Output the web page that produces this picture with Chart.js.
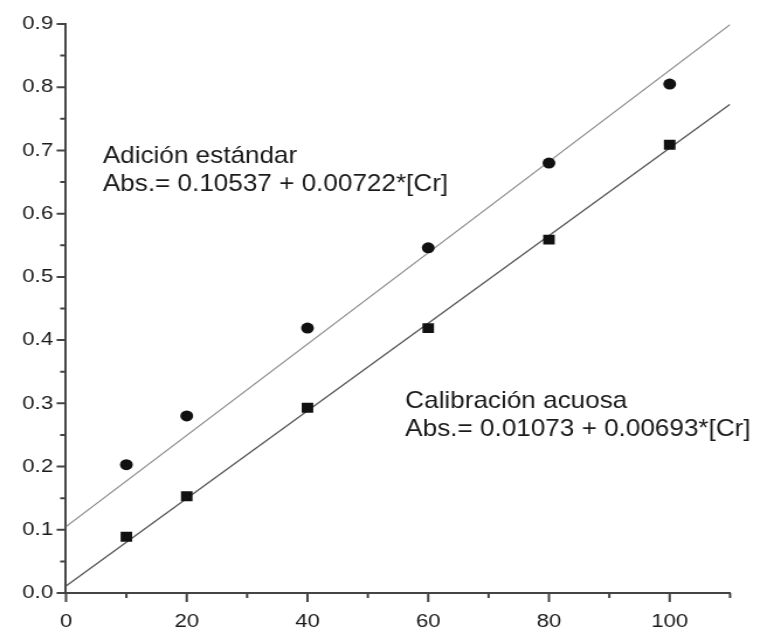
<!DOCTYPE html>
<html>
<head>
<meta charset="utf-8">
<script src="https://cdn.jsdelivr.net/npm/chart.js@4"></script>
<style>
  html, body { margin: 0; padding: 0; background: #fff; overflow: hidden; }
  /* the original picture is stretched sideways, so the chart is drawn narrower and scaled up */
  #wrap { width: 650px; height: 630px; transform: scaleX(1.1692); transform-origin: 0 0; }
</style>
</head>
<body>
<div id="wrap"><canvas id="calChart"></canvas></div>
<script>
// concentration of Cr
const concentrations = [10, 20, 40, 60, 80, 100];
// absorbance, standard addition (circles)
const absStdAddition = [0.203, 0.280, 0.419, 0.546, 0.680, 0.805];
// absorbance, aqueous calibration (squares)
const absAqueous = [0.089, 0.153, 0.293, 0.419, 0.559, 0.709];
// fitted lines, ends at x = 0 and x = 110
const fitX = [0, 110];
const fitStdAddition = [0.105, 0.899];
const fitAqueous = [0.011, 0.773];
// axis ticks
const xTicks = [0, 20, 40, 60, 80, 100];
const yTicks = [0.0, 0.1, 0.2, 0.3, 0.4, 0.5, 0.6, 0.7, 0.8, 0.9];
const labelStdAddition = ['Adición estándar', 'Abs.= 0.10537 + 0.00722*[Cr]'];
const labelAqueous = ['Calibración acuosa', 'Abs.= 0.01073 + 0.00693*[Cr]'];

const toPoints = (xs, ys) => xs.map((x, i) => ({ x: x, y: ys[i] }));

const axisColor = '#444';
const textColor = '#1a1a1a';

// tick marks: long ones on labelled values, short ones halfway between
const tickMarks = {
    id: 'tickMarks',
    afterDraw(chart) {
        const { ctx, scales: { x, y } } = chart;
        ctx.save();
        ctx.strokeStyle = axisColor;
        ctx.lineWidth = 2;
        const xMinor = xTicks.map(v => v + 10);
        const yMinor = yTicks.slice(0, -1).map(v => v + 0.05);
        ctx.beginPath();
        xTicks.forEach(v => { const px = x.getPixelForValue(v); ctx.moveTo(px, y.bottom); ctx.lineTo(px, y.bottom + 9); });
        xMinor.forEach(v => { const px = x.getPixelForValue(v); ctx.moveTo(px, y.bottom); ctx.lineTo(px, y.bottom + 5); });
        yTicks.forEach(v => { const py = y.getPixelForValue(v); ctx.moveTo(x.left, py); ctx.lineTo(x.left - 8, py); });
        yMinor.forEach(v => { const py = y.getPixelForValue(v); ctx.moveTo(x.left, py); ctx.lineTo(x.left - 5, py); });
        ctx.stroke();
        ctx.restore();
    }
};

// equation labels next to each line
const equations = {
    id: 'equations',
    afterDraw(chart) {
        const { ctx, scales: { x, y } } = chart;
        ctx.save();
        ctx.fillStyle = textColor;
        ctx.font = '24px "Liberation Sans", Arial, sans-serif';
        ctx.textBaseline = 'alphabetic';
        const put = (lines, xv, yv) => {
            const px = x.getPixelForValue(xv);
            let py = y.getPixelForValue(yv);
            lines.forEach(t => {
                ctx.save();
                ctx.translate(px, py);
                ctx.scale(0.93, 1);
                ctx.fillText(t, 0, 0);
                ctx.restore();
                py += 28;
            });
        };
        put(labelStdAddition, 6.1, 0.680);
        put(labelAqueous, 56.2, 0.293);
        ctx.restore();
    }
};

const ctx = document.getElementById('calChart').getContext('2d');
new Chart(ctx, {
    type: 'scatter',
    data: {
        datasets: [
            {
                label: 'Adición estándar',
                data: toPoints(concentrations, absStdAddition),
                pointStyle: 'circle',
                pointRadius: 5.5,
                backgroundColor: '#111',
                borderColor: '#111',
                borderWidth: 0
            },
            {
                label: 'Calibración acuosa',
                data: toPoints(concentrations, absAqueous),
                pointStyle: 'rect',
                pointRadius: 7,
                backgroundColor: '#111',
                borderColor: '#111',
                borderWidth: 0
            },
            {
                label: 'ajuste adición',
                data: toPoints(fitX, fitStdAddition),
                showLine: true,
                pointRadius: 0,
                borderColor: '#8a8a8a',
                borderWidth: 1.3
            },
            {
                label: 'ajuste acuosa',
                data: toPoints(fitX, fitAqueous),
                showLine: true,
                pointRadius: 0,
                borderColor: '#555',
                borderWidth: 1.3
            }
        ]
    },
    options: {
        responsive: true,
        maintainAspectRatio: false,
        animation: false,
        layout: { padding: { top: 24, right: 25.6, left: 0, bottom: 0 } },
        plugins: {
            legend: { display: false },
            tooltip: { enabled: false }
        },
        scales: {
            x: {
                type: 'linear',
                min: 0,
                max: 110,
                afterBuildTicks: scale => { scale.ticks = xTicks.map(v => ({ value: v })); },
                afterFit: scale => { scale.height = 37; },
                grid: { display: true, drawOnChartArea: false, drawTicks: false },
                border: { display: true, color: axisColor, width: 2 },
                ticks: {
                    padding: 17,
                    color: textColor,
                    font: { family: '"Liberation Sans", Arial, sans-serif', size: 19 },
                    maxRotation: 0
                }
            },
            y: {
                type: 'linear',
                min: 0,
                max: 0.9,
                afterBuildTicks: scale => { scale.ticks = yTicks.map(v => ({ value: v })); },
                afterFit: scale => { scale.width = 56.45; },
                grid: { display: true, drawOnChartArea: false, drawTicks: false },
                border: { display: true, color: axisColor, width: 2 },
                ticks: {
                    padding: 11,
                    color: textColor,
                    font: { family: '"Liberation Sans", Arial, sans-serif', size: 19 },
                    callback: v => v.toFixed(1)
                }
            }
        }
    },
    plugins: [tickMarks, equations]
});
</script>
</body>
</html>
